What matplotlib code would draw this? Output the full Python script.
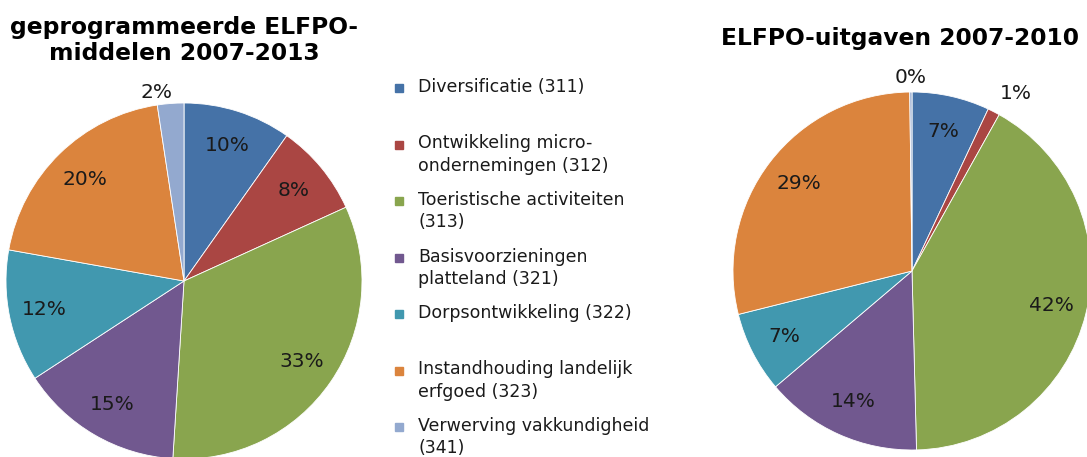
import matplotlib.pyplot as plt
import numpy as np

labels = ["Diversificatie (311)",
          "Ontwikkeling micro-\nondernemingen (312)",
          "Toeristische activiteiten\n(313)",
          "Basisvoorzieningen\nplatteland (321)",
          "Dorpsontwikkeling (322)",
          "Instandhouding landelijk\nerfgoed (323)",
          "Verwerving vakkundigheid\n(341)"]
colors = ['#4572A7', '#AA4643', '#89A54E', '#71588F', '#4198AF', '#DB843D', '#93A9CF']

# shares in %
programmed = [9.8, 8.4, 32.8, 14.8, 12.0, 19.8, 2.4]
spent = [7.0, 1.1, 41.5, 14.2, 7.3, 28.7, 0.2]

W, H = 1087, 457
fig = plt.figure(figsize=(W / 100, H / 100), dpi=100)


def pie_axes(cx, cy, r):
    # cx, cy, r in pixels, y measured from the top
    return fig.add_axes([(cx - r) / W, (H - cy - r) / H, 2 * r / W, 2 * r / H])


def draw_pie(ax, vals, outside):
    wedges, _ = ax.pie(vals, colors=colors, startangle=90, counterclock=False,
                       radius=1, wedgeprops=dict(edgecolor='white', linewidth=0.6))
    ax.set_xlim(-1, 1)
    ax.set_ylim(-1, 1)
    ax.axis('off')
    for i, w in enumerate(wedges):
        # small slices get their label outside (distance, angle shift)
        d, shift = outside.get(i, (0.80, 0))
        ang = np.deg2rad((w.theta1 + w.theta2) / 2 + shift)
        ax.text(d * np.cos(ang), d * np.sin(ang), f"{round(vals[i])}%",
                ha='center', va='center', fontsize=14.5, color='#1a1a1a',
                clip_on=False)


ax1 = pie_axes(184, 281, 178)
draw_pie(ax1, programmed, {6: (1.07, 4)})

ax2 = pie_axes(912, 271, 179)
draw_pie(ax2, spent, {1: (1.15, -3), 6: (1.08, 0)})

fig.text(184 / W, 1 - 40.5 / H, "geprogrammeerde ELFPO-\nmiddelen 2007-2013",
         ha='center', va='center', fontsize=16.8, fontweight='bold', linespacing=1.15)
fig.text(900 / W, 1 - 38 / H, "ELFPO-uitgaven 2007-2010",
         ha='center', va='center', fontsize=16.8, fontweight='bold')

# legend
for i, (lab, c) in enumerate(zip(labels, colors)):
    y = 88 + i * 56.5
    fig.patches.append(plt.Rectangle((395 / W, 1 - (y + 4) / H), 8 / W, 8 / H,
                                     transform=fig.transFigure, color=c))
    fig.text(418 / W, 1 - (y - 10) / H, lab, ha='left', va='top', fontsize=12.5,
             color='#1a1a1a', linespacing=1.3)

fig.savefig('out.png', dpi=100)
